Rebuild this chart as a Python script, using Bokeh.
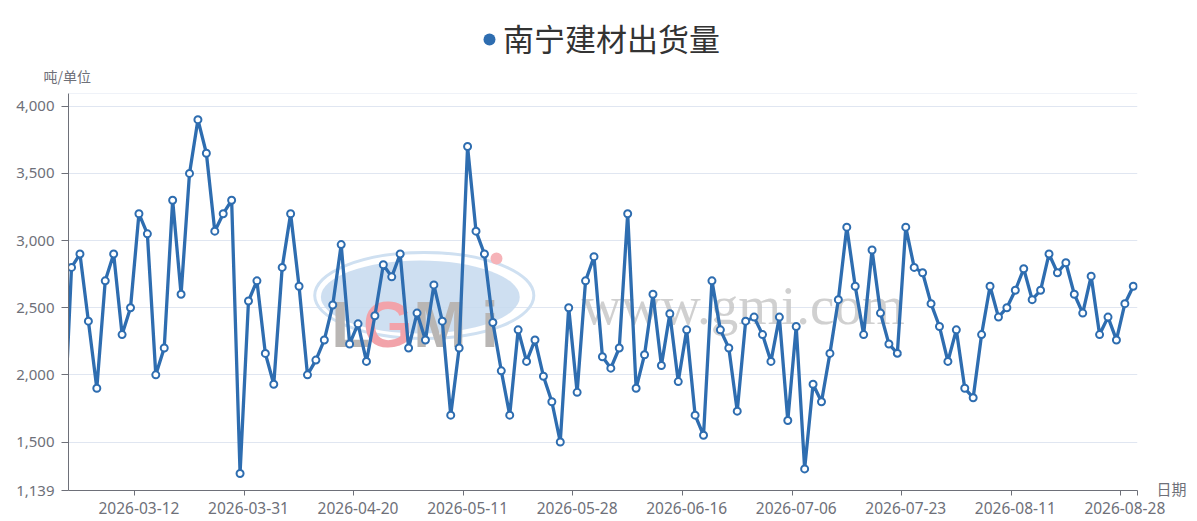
from bokeh.plotting import figure
from bokeh.models import FixedTicker, NumeralTickFormatter, Span, Range1d, LinearAxis
from bokeh.layouts import column
from bokeh.core.properties import value
from bokeh.embed import file_html
from bokeh.resources import INLINE

# ---- data ----
title_text = "南宁建材出货量"
y_unit = "吨/单位"
x_name = "日期"
# value of the point just left of the visible window (clipped)
prev_value = 1425
shipments = [
    2800, 2900, 2400, 1900, 2700, 2900, 2300, 2500, 3200, 3050, 2000, 2200, 3300, 2600, 3500, 3900, 3650, 3070, 3200, 3300, 1266,
    2550, 2700, 2160, 1930, 2800, 3200, 2660, 2000, 2110, 2260, 2520, 2970, 2230, 2380, 2100, 2440, 2820, 2730, 2900, 2200, 2460,
    2260, 2670, 2400, 1700, 2200, 3700, 3070, 2900, 2390, 2030, 1700, 2335, 2100, 2260, 1990, 1800, 1500, 2500, 1870, 2700, 2880,
    2135, 2050, 2200, 3200, 1900, 2150, 2600, 2070, 2455, 1950, 2335, 1700, 1550, 2700, 2335, 2200, 1730, 2400, 2430, 2300, 2100, 2430,
    1660, 2360, 1300, 1930, 1800, 2160, 2560, 3100, 2660, 2300, 2930, 2460, 2230, 2160, 3100, 2800, 2760, 2530, 2360, 2100, 2335,
    1900, 1830, 2300, 2660, 2430, 2500, 2630, 2790, 2560, 2630, 2900, 2760, 2835, 2600, 2460, 2735, 2300, 2430, 2260, 2530, 2660,
]
x_label_index = [8, 21, 34, 47, 60, 73, 86, 99, 112, 125]
x_label_text = ["2026-03-12", "2026-03-31", "2026-04-20", "2026-05-11", "2026-05-28",
                "2026-06-16", "2026-07-06", "2026-07-23", "2026-08-11", "2026-08-28"]
y_ticks = [1139, 1500, 2000, 2500, 3000, 3500, 4000]
y_min = 1139
y_max = 4095

BLUE = "#2e6db0"
AXIS = "#6e7079"
GRID = "#e0e6f1"

xs = list(range(len(shipments)))
n = len(shipments)

TOP_H = 85
FULL_W = 1189
MAIN_H = 435

# ---- header: legend-like title and unit name ----
top = figure(width=FULL_W, height=TOP_H, output_backend="svg", toolbar_location=None,
             x_axis_type=None, y_axis_type=None,
             x_range=Range1d(0, FULL_W), y_range=Range1d(TOP_H, 0), min_border=0)
top.outline_line_color = None
top.frame_align = False
top.scatter(x=[489], y=[39], size=12, fill_color=BLUE, line_color=None)
top.text(x=[611], y=[36.5], text=[title_text], text_font=value("Noto Sans CJK SC"),
         text_font_size="31px", text_color="#333333", text_align="center",
         text_baseline="middle")
top.text(x=[66.7], y=[75], text=[y_unit], text_font=value("Noto Sans CJK SC"),
         text_font_size="14px", text_color=AXIS, text_align="center",
         text_baseline="middle")

# ---- main chart ----
p = figure(width=FULL_W, height=MAIN_H, output_backend="svg", toolbar_location=None,
           x_range=Range1d(-0.36, n - 0.5), y_range=Range1d(y_min, y_max),
           min_border_left=68, min_border_right=52, min_border_top=8, min_border_bottom=30)
p.outline_line_color = None
p.frame_align = False

p.xaxis.ticker = FixedTicker(ticks=x_label_index,
                             minor_ticks=[i - 0.5 for i in x_label_index] + [n - 0.5])
p.xaxis.major_label_overrides = {i: t for i, t in zip(x_label_index, x_label_text)}
p.xaxis.axis_line_color = AXIS
p.xaxis.major_tick_line_color = None
p.xaxis.major_tick_out = 0
p.xaxis.major_tick_in = 0
p.xaxis.minor_tick_line_color = AXIS
p.xaxis.minor_tick_out = 5
p.xaxis.minor_tick_in = 0
p.xaxis.major_label_standoff = 6
p.xaxis.major_label_text_font = "Noto Sans"
p.xaxis.major_label_text_font_size = "15.5px"
p.xaxis.major_label_text_color = AXIS

p.yaxis.ticker = FixedTicker(ticks=y_ticks)
p.yaxis.formatter = NumeralTickFormatter(format="0,0")
p.yaxis.axis_line_color = AXIS
p.yaxis.major_tick_line_color = AXIS
p.yaxis.major_tick_out = 7
p.yaxis.major_tick_in = 0
p.yaxis.minor_tick_line_color = None
p.yaxis.major_label_standoff = 7
p.yaxis.major_label_text_font = "Noto Sans"
p.yaxis.major_label_text_font_size = "15px"
p.yaxis.major_label_text_color = AXIS

# x axis name shown at the right end of the x axis
name_axis = LinearAxis(ticker=FixedTicker(ticks=[y_min + 15]),
                       major_label_overrides={y_min + 15: x_name})
name_axis.axis_line_color = None
name_axis.major_tick_line_color = None
name_axis.minor_tick_line_color = None
name_axis.major_tick_out = 0
name_axis.major_tick_in = 0
name_axis.major_label_standoff = 19
name_axis.major_label_text_font = "Noto Sans CJK SC"
name_axis.major_label_text_font_size = "15px"
name_axis.major_label_text_color = AXIS
p.add_layout(name_axis, "right")

p.xgrid.visible = False
p.ygrid.grid_line_color = GRID
p.add_layout(Span(location=y_max, dimension="width", line_color=GRID, line_width=1))

# watermark (logo + site text)
p.ellipse(x=[41.86], y=[2591], width=[26.0], height=[640], fill_color=None,
          line_color="#cfe0f1", line_width=3)
p.ellipse(x=[41.39], y=[2580], width=[23.6], height=[543], fill_color="#c6d9ee",
          fill_alpha=0.85, line_color=None)
p.text(x=[33.15, 43.72, 49.65], y=[2368, 2368, 2368], text=["L", "M", "i"],
       text_font=value("Liberation Sans"), text_font_style="bold", text_font_size="64px",
       text_color="#b9b6b4", text_align="center", text_baseline="alphabetic")
p.text(x=[37.54], y=[2368], text=["G"],
       text_font=value("Liberation Sans"), text_font_style="bold", text_font_size="64px",
       text_color="#f2a3aa", text_align="center", text_baseline="alphabetic")
p.scatter(x=[50.43], y=[2866], size=12, fill_color="#f6b3b8", line_color=None)
p.text(x=[79.7], y=[2517], text=["www.gmi.com"], text_font=value("Liberation Serif"),
       text_font_size="55px", text_color="#c4c4c4", text_alpha=0.8,
       text_align="center", text_baseline="alphabetic")

# series
p.line(x=[-1] + xs, y=[prev_value] + shipments, line_color=BLUE, line_width=3.3)
p.scatter(x=xs, y=shipments, size=7, fill_color="white", line_color=BLUE, line_width=2)

layout = column(top, p, spacing=0)
open("out.html", "w").write(file_html(layout, INLINE))
